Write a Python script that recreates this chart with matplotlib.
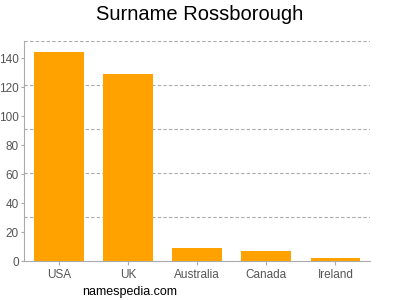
import matplotlib
matplotlib.use('Agg')
import matplotlib.pyplot as plt
import numpy as np

countries = ['USA', 'UK', 'Australia', 'Canada', 'Ireland']
counts = [144, 129, 9, 7, 2]
y_ticks = [0, 20, 40, 60, 80, 100, 120, 140]
y_max = 152

plt.rcParams['font.family'] = ['Liberation Sans', 'DejaVu Sans']

fig = plt.figure(figsize=(4, 3), dpi=100)
ax = fig.add_axes([0.061, 0.13, 0.864, 0.734])

x = np.arange(len(countries))
ax.bar(x, counts, width=0.72, color='#ffa200', zorder=2)

ax.set_xlim(-0.5, len(countries) - 0.5)
ax.set_ylim(0, y_max)
ax.set_xticks(x)
ax.set_xticklabels(countries)
ax.set_yticks(y_ticks)

# dashed grid lines split the axis in five, not on the ticks
for g in np.linspace(0, y_max, 6)[1:]:
    ax.axhline(g, color='#aaaaaa', linestyle=(0, (3, 2)), linewidth=0.8, zorder=1)

for s in ['top', 'right']:
    ax.spines[s].set_visible(False)
for s in ['left', 'bottom']:
    ax.spines[s].set_color('#aaaaaa')
    ax.spines[s].set_linewidth(0.8)
ax.tick_params(colors='#555555', labelsize=8.5, length=3, width=0.8, pad=1.5)
ax.tick_params(axis='x', color='#aaaaaa', pad=2.5)
ax.tick_params(axis='y', color='#aaaaaa', length=2.5)

fig.text(0.5, 0.95, 'Surname Rossborough', ha='center', va='center', fontsize=14.5)
fig.text(0.205, 0.027, 'namespedia.com', ha='left', va='center', fontsize=9)

fig.savefig('out.png', dpi=100)
